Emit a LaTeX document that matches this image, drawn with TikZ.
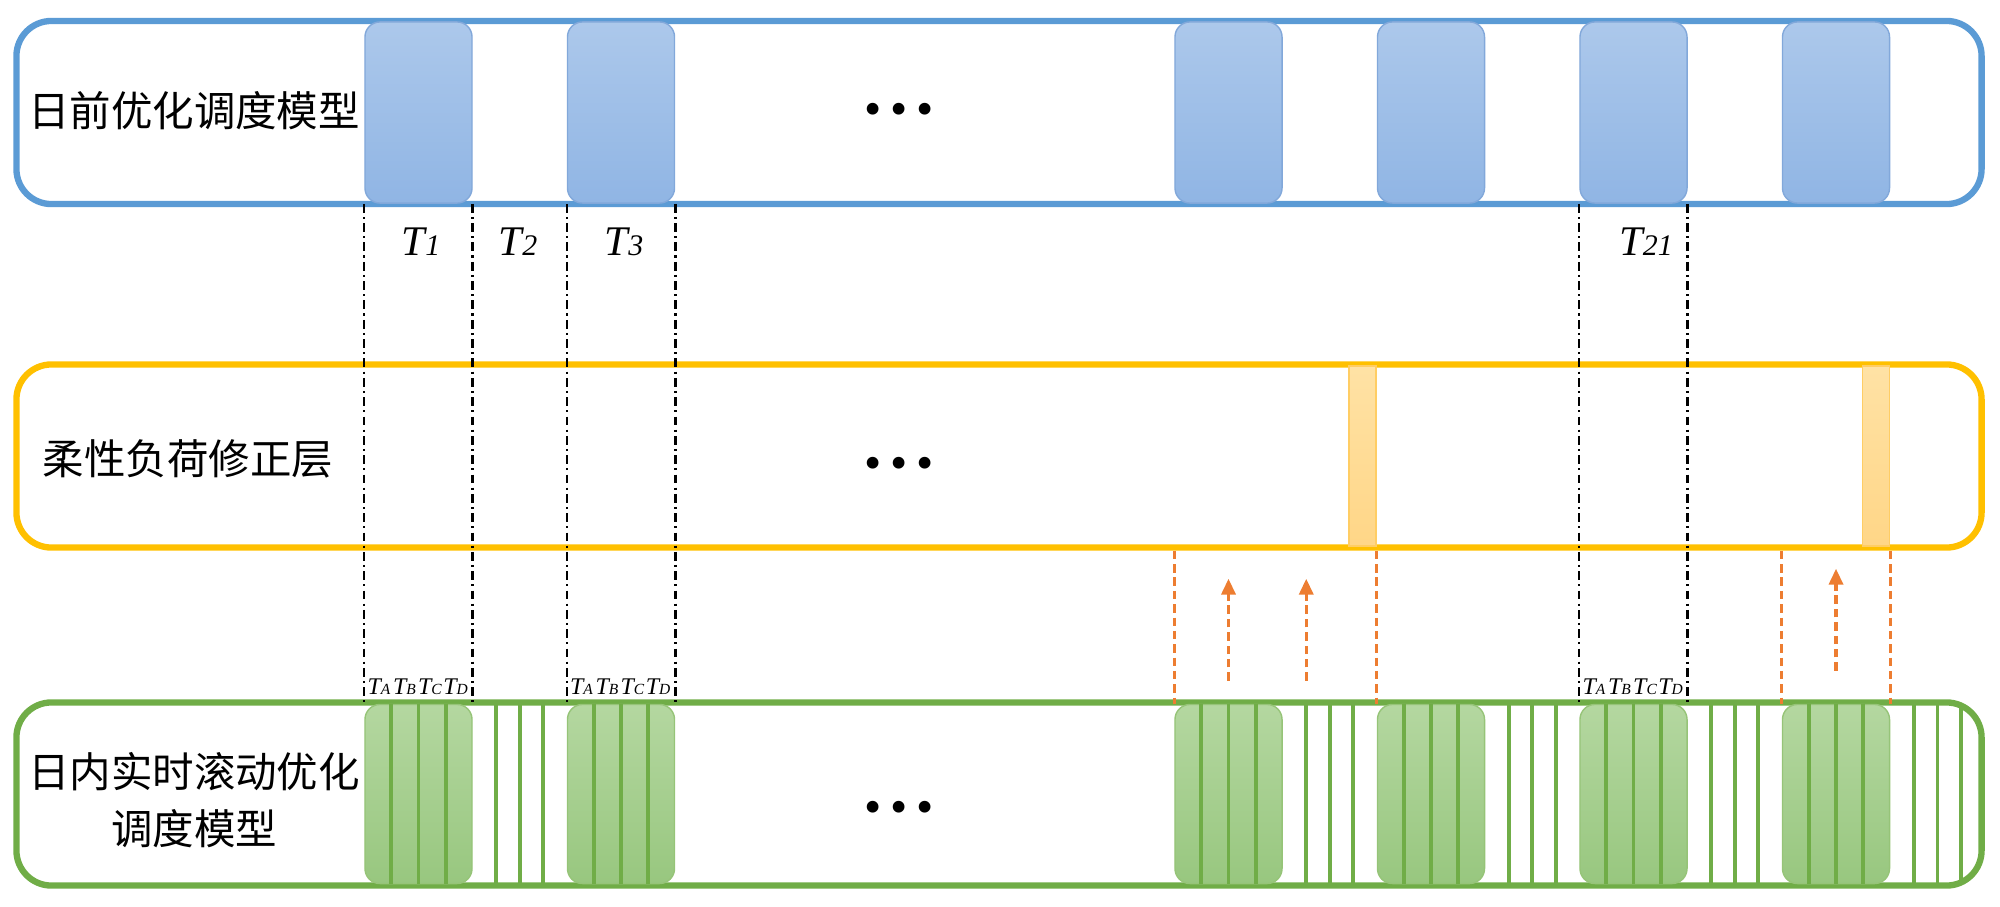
\documentclass[tikz,border=0pt]{standalone}
\usepackage{fontspec}
\setmainfont{Liberation Serif}
\newfontfamily\cjkfont{Noto Sans CJK SC}
\usetikzlibrary{arrows.meta, positioning, calc}
\definecolor{dablue}{RGB}{91,155,213}
\definecolor{flexyel}{RGB}{255,192,0}
\definecolor{rtgreen}{RGB}{112,173,71}
\definecolor{arrorange}{RGB}{237,125,49}
\newcommand{\tsub}[1]{{\fontsize{8.5pt}{8.5pt}\selectfont #1}}
\newcommand{\tsubs}[1]{{\fontsize{4.4pt}{4.4pt}\selectfont #1}}
\tikzset{
    layerbox/.style={rectangle, rounded corners=0.35cm, line width=1.8pt, minimum width=19.64cm, minimum height=1.83cm, inner sep=0pt},
    dablock/.style={rectangle, rounded corners=0.15cm, draw={rgb,255:red,130;green,168;blue,218}, line width=0.4pt,
        top color={rgb,255:red,172;green,200;blue,235}, bottom color={rgb,255:red,144;green,181;blue,228},
        minimum width=1.07cm, minimum height=1.81cm, inner sep=0pt},
    rtblock/.style={rectangle, rounded corners=0.15cm, draw={rgb,255:red,150;green,196;blue,120}, line width=0.4pt,
        top color={rgb,255:red,180;green,215;blue,160}, bottom color={rgb,255:red,152;green,199;blue,127},
        minimum width=1.07cm, minimum height=1.79cm, inner sep=0pt},
    flexbar/.style={rectangle, draw={rgb,255:red,255;green,205;blue,100}, line width=0.4pt,
        top color={rgb,255:red,255;green,226;blue,165}, bottom color={rgb,255:red,255;green,214;blue,135},
        minimum width=0.27cm, minimum height=1.8cm, inner sep=0pt},
    cellline/.style={draw=rtgreen, line width=1.1pt},
    sepline/.style={draw=black, dash pattern=on 2.5pt off 1.2pt on 0.6pt off 1.2pt},
    septhin/.style={sepline, line width=0.5pt},
    septhick/.style={sepline, line width=0.95pt},
    fline/.style={draw=arrorange, line width=0.9pt, dash pattern=on 2.4pt off 1.4pt},
    farrow/.style={fline, -{Triangle[length=4.5pt, width=4pt]}},
    layerlabel/.style={font=\cjkfont\fontsize{11.8pt}{16.2pt}\selectfont, align=center, inner sep=0pt},
    tlabel/.style={font=\itshape\fontsize{12pt}{12pt}\selectfont, inner sep=0pt},
    tsmall/.style={font=\itshape\fontsize{6.8pt}{6.8pt}\selectfont, inner sep=0pt},
    dotsnode/.style={font=\fontsize{14pt}{14pt}\selectfont, inner sep=0pt},
}

\begin{document}
\begin{tikzpicture}[x=0.01cm, y=-0.01cm]
\useasboundingbox (0,0) rectangle (2000,906);

% ===================== LAYER BOXES =====================
\node[layerbox, draw=dablue] (d_box) at (999,112.5) {};
\node[layerbox, draw=flexyel] (f_box) at (999,456) {};
\node[layerbox, draw=rtgreen] (r_box) at (999,794) {};

\node[layerlabel] (d_lbl) at (194,111) {日前优化调度模型};
\node[layerlabel] (f_lbl) at (188,459) {柔性负荷修正层};
\node[layerlabel] (r_lbl) at (194,800) {日内实时滚动优化\\调度模型};

\node[dotsnode] (d_dots) at (899,114) {\textbullet\hspace{2.5pt}\textbullet\hspace{2.5pt}\textbullet};
\node[dotsnode] (f_dots) at (899,468) {\textbullet\hspace{2.5pt}\textbullet\hspace{2.5pt}\textbullet};
\node[dotsnode] (r_dots) at (899,812) {\textbullet\hspace{2.5pt}\textbullet\hspace{2.5pt}\textbullet};

% ===================== TIME BLOCKS =====================
\foreach \i in {0,1,4,5,6,7} {
    \node[dablock] (d_blk\i) at ({418.5+202.5*\i},112.5) {};
    \node[rtblock] (r_blk\i) at ({418.5+202.5*\i},794) {};
}

% real-time cells inside blocks and in the gaps
\foreach \i in {0,1,4,5,6,7}
    \foreach \k in {1,2,3}
        \draw[cellline] ($(r_blk\i.north west)!\k/4!(r_blk\i.north east)$) -- ($(r_blk\i.south west)!\k/4!(r_blk\i.south east)$);
\foreach \a/\b in {0/1,4/5,5/6,6/7}
    \foreach \k in {1,2,3}
        \draw[cellline] ($(r_blk\a.north east)!\k/4!(r_blk\b.north west)$) -- ($(r_blk\a.south east)!\k/4!(r_blk\b.south west)$);
\coordinate (r_endn) at (r_blk7.north east -| r_box.east);
\coordinate (r_ends) at (r_blk7.south east -| r_box.east);
\foreach \k in {1,2,3}
    \draw[cellline] ($(r_blk7.north east)!\k/4!(r_endn)$) -- ($(r_blk7.south east)!\k/4!(r_ends)$);

% correction bars
\node[flexbar, anchor=east] (f_bar1) at (d_blk5.west |- f_box) {};
\node[flexbar, anchor=east] (f_bar2) at (d_blk7.east |- f_box) {};

% ===================== PERIOD MARKERS =====================
\foreach \i in {0,1,6} {
    \draw[septhin] (d_blk\i.south west) -- (r_blk\i.north west);
    \draw[septhick] (d_blk\i.south east) -- (r_blk\i.north east);
}

\node[tlabel] (t_1) at (421,242) {T\tsub{1}};
\node[tlabel] (t_2) at (518,242) {T\tsub{2}};
\node[tlabel] (t_3) at (624,242) {T\tsub{3}};
\node[tlabel] (t_21) at (1646,242) {T\tsub{21}};

\foreach \i in {0,1,6}
    \foreach \k/\s in {0/A,1/B,2/C,3/D}
        \node[tsmall] (s_\i\s) at ({366+202.5*\i+25.5*\k+13},687) {T\tsubs{\s}};

% ===================== FEEDBACK TO CORRECTION LAYER =====================
\draw[fline] (r_blk4.north west |- f_box.south) -- (r_blk4.north west);
\draw[fline] (r_blk5.north west |- f_box.south) -- (r_blk5.north west);
\draw[fline] (r_blk7.north west |- f_box.south) -- (r_blk7.north west);
\draw[fline] (r_blk7.north east |- f_box.south) -- (r_blk7.north east);

\coordinate (a_1s) at ($(r_blk4.north)+(0,-23)$);
\coordinate (a_1e) at ($(r_blk4.north)+(0,-125)$);
\coordinate (a_2x) at ($(r_blk4.north east)!0.25!(r_blk5.north west)$);
\coordinate (a_2s) at ($(a_2x)+(0,-23)$);
\coordinate (a_2e) at ($(a_2x)+(0,-125)$);
\coordinate (a_3s) at ($(r_blk7.north)+(0,-33)$);
\coordinate (a_3e) at ($(r_blk7.north)+(0,-135)$);
\draw[farrow] (a_1s) -- (a_1e);
\draw[farrow] (a_2s) -- (a_2e);
\draw[farrow] (a_3s) -- (a_3e);

\end{tikzpicture}
\end{document}
